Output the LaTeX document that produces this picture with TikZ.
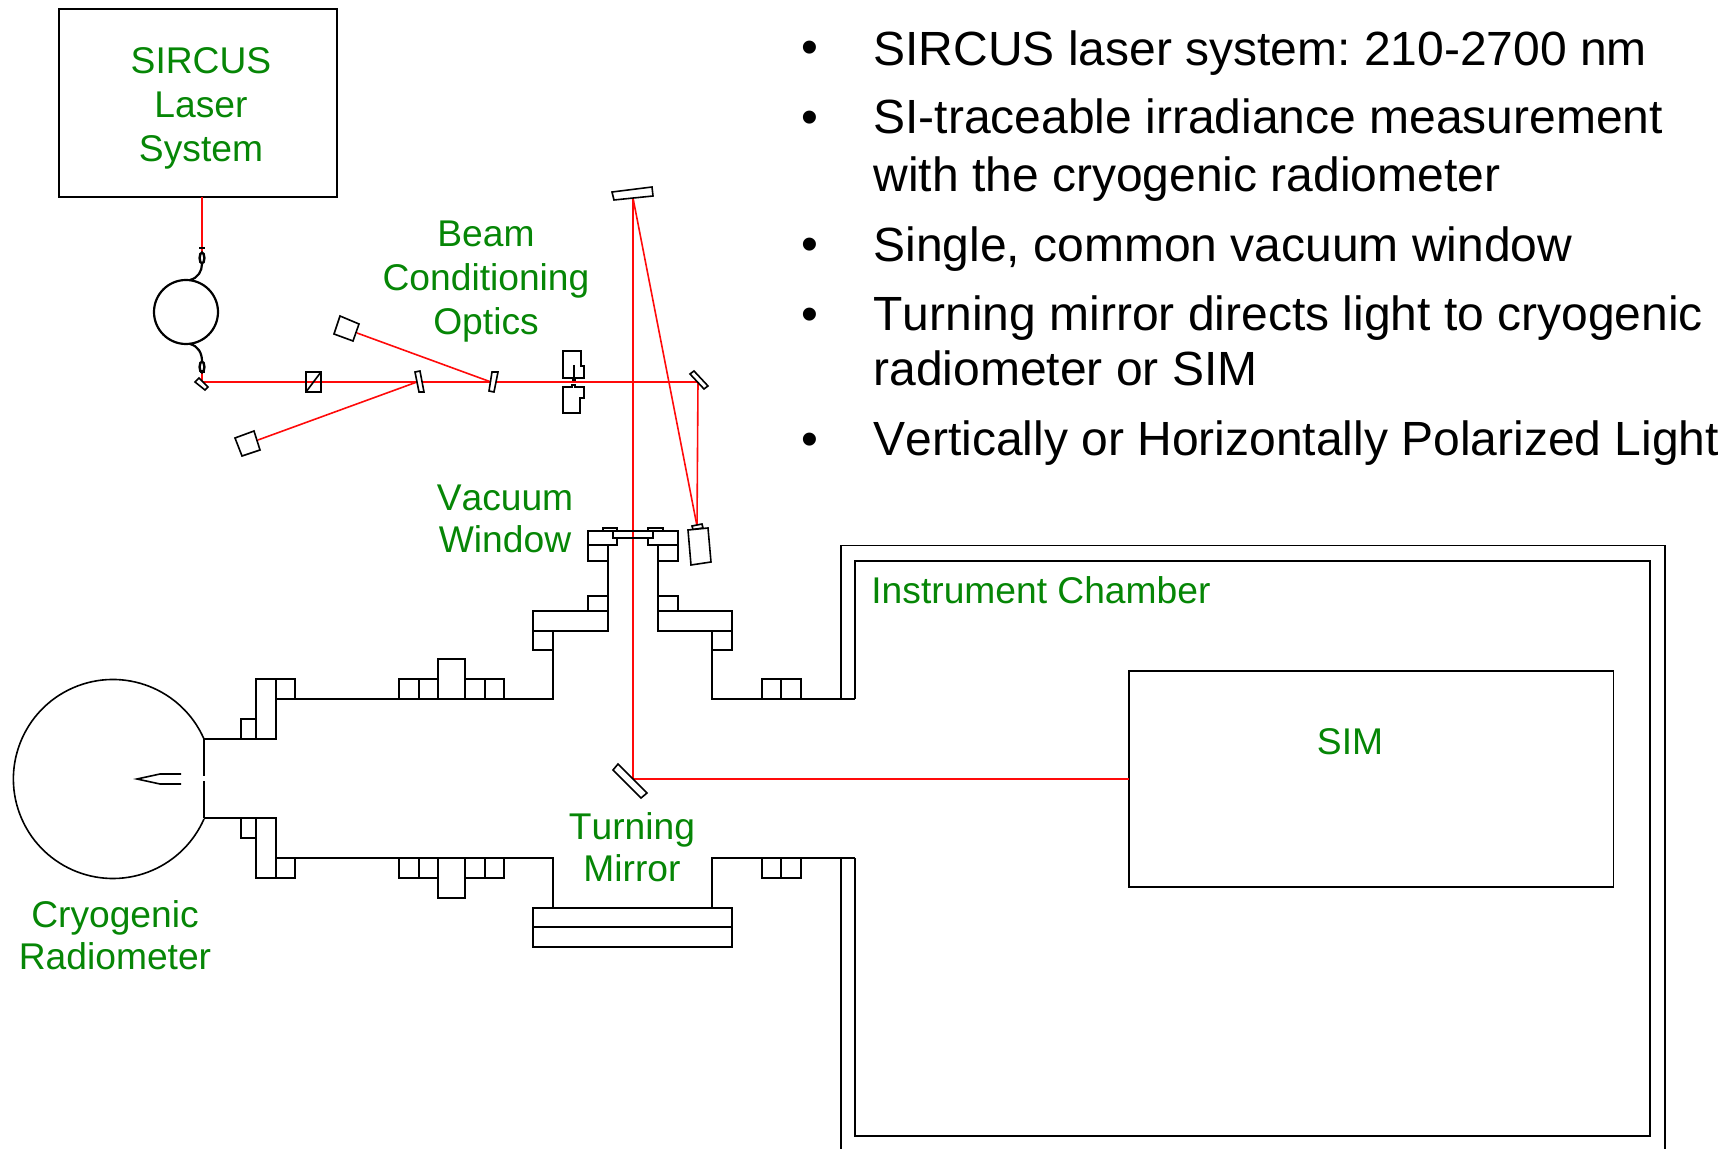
\documentclass[tikz,border=0pt]{standalone}
\usepackage{fontspec}
\setmainfont[Kerning=Off]{Liberation Sans}
\definecolor{lblgreen}{HTML}{068606}
\definecolor{beamred}{HTML}{FF0A0A}
\frenchspacing
\tikzset{
  ink/.style={draw=black,line width=0.8pt,line join=miter},
  optic/.style={ink,fill=white},
  thick ink/.style={draw=black,line width=1.4pt},
  beam/.style={draw=beamred,line width=0.8pt},
  lbl/.style={text=lblgreen,align=center,inner sep=0pt,font=\fontsize{18.6}{22}\selectfont},
  lbltwo/.style={lbl,font=\fontsize{18.6}{21}\selectfont},
  bullettext/.style={text=black,anchor=base west,inner sep=0pt,font=\fontsize{24}{28}\selectfont},
  bulletmark/.style={text=black,anchor=base,inner sep=0pt,font=\fontsize{24}{28}\selectfont},
  boxnode/.style={ink,anchor=north west,inner sep=0pt,outer sep=0pt}
}
\begin{document}
\begin{tikzpicture}[x=0.5pt,y=-0.5pt]
\useasboundingbox (0,0) rectangle (1721,1149);
% named points of the beam path
\coordinate (tick) at (202,248);
\coordinate (fibEnd) at (202,382);
\coordinate (trapA) at (357,333);
\coordinate (trapB) at (258,440);
\coordinate (winA) at (417,382);
\coordinate (winB) at (491,382);
\coordinate (foldR) at (698,382);
\coordinate (foldT) at (633,198);
\coordinate (detTop) at (697,526);
\coordinate (turn) at (633,779);
% boxes
\node[boxnode,minimum width=139pt,minimum height=94pt] (laser) at (59,9) {};
\node[boxnode,minimum width=242.25pt,minimum height=108pt] (sim) at (1129,671) {};
\coordinate (laserOut) at (202,197);
% beams
\draw[beam] (laserOut) -- (tick) -- (202,254);
\draw[beam] (202,371) -- (fibEnd) -- (foldR) -- (detTop);
\draw[beam] (trapA) -- (winB);
\draw[beam] (trapB) -- (winA);
\draw[beam] (foldT) -- (turn) -- (sim.west |- turn);
\draw[beam] (foldT) -- (detTop);
% fibre loop
\draw[ink,line width=1.1pt] (186,312) circle (32);
\draw[ink,line width=1.1pt] (190,280) .. controls (198,278) and (202,271) .. (202,264);
\draw[ink,line width=1.1pt] (190,344) .. controls (198,346) and (202,353) .. (202,361);
\draw[thick ink] (199,248) -- (205,248);
\draw[optic,line width=1.2pt] (202,258) ellipse (2.4 and 5.5);
\draw[optic,line width=1.2pt] (202,367) ellipse (2.4 and 5.5);
\draw[thick ink] (199.5,371.5) -- (204.5,371.5);
% optics
\draw[optic] (195,382) -- (199,378) -- (208,387) -- (205,390) -- cycle;
\draw[ink] (306,372) rectangle (321,392);
\draw[ink] (306,392) -- (321,372);
\draw[optic] (340,316) -- (359,324) -- (353,341) -- (334,334) -- cycle;
\draw[optic] (235,438) -- (254,431) -- (260,450) -- (242,456) -- cycle;
\draw[optic] (415,372) -- (420,371) -- (424,392) -- (419,392) -- cycle;
\draw[optic] (492,372) -- (498,372) -- (494,392) -- (489,391) -- cycle;
\draw[ink] (563,351) -- (581,351) -- (581,366) -- (584,366) -- (584,378) -- (563,378) -- cycle;
\draw[ink] (574,365) -- (574,379);
\draw[thick ink] (572,379.5) -- (576,379.5);
\draw[ink] (563,387) -- (572,387) -- (572,385) -- (575,385) -- (575,387) -- (584,387) -- (584,398) -- (580,398) -- (580,413) -- (563,413) -- cycle;
\draw[optic] (612,192) -- (652,187) -- (653,196) -- (614,200) -- cycle;
\draw[optic] (690,374) -- (694,371) -- (708,386) -- (704,389) -- cycle;
\draw[optic] (618,764) -- (613,770) -- (641,798) -- (647,793) -- cycle;
% detector beside the window
\draw[optic] (692,526) -- (702,524) -- (703,528) -- (693,529.5) -- cycle;
\draw[optic] (688,530) -- (708,528) -- (711,562) -- (691,565) -- cycle;
% vacuum window assembly
\draw[ink] (613,531) rectangle (653,538);
\draw[ink] (603,531) -- (603,528) -- (617,528) -- (617,531);
\draw[ink] (648,531) -- (648,528) -- (663,528) -- (663,531);
\draw[ink] (613,531) -- (588,531) -- (588,545) -- (617,545) -- (617,538);
\draw[ink] (653,531) -- (678,531) -- (678,545) -- (648,545) -- (648,538);
\draw[ink] (588,545) -- (588,561) -- (608,561);
\draw[ink] (678,545) -- (678,561) -- (658,561);
\draw[ink] (608,545) -- (608,611);
\draw[ink] (658,545) -- (658,611);
\draw[ink] (588,611) rectangle (608,596);
\draw[ink] (658,596) rectangle (678,611);
\draw[ink] (533,611) rectangle (608,631);
\draw[ink] (658,611) rectangle (732,631);
\draw[ink] (533,631) rectangle (553,650);
\draw[ink] (712,631) rectangle (732,650);
% main tube, top
\draw[ink] (553,650) -- (553,699.2) -- (295,699.2);
\draw[ink] (712,650) -- (712,699.2) -- (855,699.2);
\draw[ink] (399,679) rectangle (419,699.2);
\draw[ink] (419,679) rectangle (438,699.2);
\draw[ink] (438,659) rectangle (465,699.2);
\draw[ink] (465,679) rectangle (485,699.2);
\draw[ink] (485,679) rectangle (504,699.2);
\draw[ink] (762,679) rectangle (781,699.2);
\draw[ink] (781,679) rectangle (801,699.2);
% main tube, bottom
\draw[ink] (553,908) -- (553,858) -- (295,858);
\draw[ink] (712,908) -- (712,858) -- (855,858);
\draw[ink] (399,858) rectangle (419,878);
\draw[ink] (419,858) rectangle (438,878);
\draw[ink] (438,858) rectangle (465,898);
\draw[ink] (465,858) rectangle (485,878);
\draw[ink] (485,858) rectangle (504,878);
\draw[ink] (762,858) rectangle (781,878);
\draw[ink] (781,858) rectangle (801,878);
% turning mirror port plate
\draw[ink] (533,908) rectangle (732,947);
\draw[ink,line width=1.1pt] (533,927) -- (732,927);
\draw[ink,line width=1.1pt] (553,908) -- (712,908);
% radiometer flanges
\draw[ink] (241,719) rectangle (256,739);
\draw[ink] (256,679) rectangle (276,739);
\draw[ink] (276,679) rectangle (295,699.2);
\draw[ink] (241,818) rectangle (256,838);
\draw[ink] (256,818) rectangle (276,878);
\draw[ink] (276,858) rectangle (295,878);
\draw[ink] (204,739) -- (241,739);
\draw[ink] (204,818) -- (241,818);
% cryogenic radiometer
\draw[ink] (204,739) arc[start angle=-23.7,end angle=-336.3,radius=99.5];
\draw[ink] (204,739) -- (204,776.5);
\draw[ink] (204,781) -- (204,818);
\draw[ink] (181,774) -- (160,774) -- (137,779) -- (160,784) -- (181,784);
% instrument chamber
\draw[ink] (840.7,699.2) -- (840.7,545.5) -- (1665,545.5) -- (1665,1149);
\draw[ink] (840.7,858) -- (840.7,1149);
\draw[ink] (855,699.2) -- (855,561) -- (1650,561) -- (1650,1136) -- (855,1136) -- (855,858);
% labels
\node[lbl] (lblLaser) at (201,108) {SIRCUS\\Laser\\System};
\node[lbl] (lblBeam) at (486,282) {Beam\\Conditioning\\Optics};
\node[lbltwo] (lblVac) at (505,519) {Vacuum\\Window};
\node[lbltwo] (lblTurn) at (632,847) {Turning\\Mirror};
\node[lbltwo] (lblCryo) at (115,935.5) {Cryogenic\\Radiometer};
\node[lbl] (lblSim) at (1350,742) {SIM};
\node[lbl,anchor=base west] (lblChamber) at (871,604) {Instrument Chamber};
% bullets
\node[bulletmark] (b1) at (810,63.5) {•};
\node[bullettext] (t1) at (873,66) {SIRCUS laser system: 210-2700 nm};
\node[bulletmark] (b2) at (810,133.5) {•};
\node[bullettext] (t2) at (873,134) {SI-traceable irradiance measurement};
\node[bullettext] (t2b) at (873,192) {with the cryogenic radiometer};
\node[bulletmark] (b3) at (810,260.5) {•};
\node[bullettext] (t3) at (873,262) {Single, common vacuum window};
\node[bulletmark] (b4) at (810,330.5) {•};
\node[bullettext] (t4) at (873,331) {Turning mirror directs light to cryogenic};
\node[bullettext] (t4b) at (873,386) {radiometer or SIM};
\node[bulletmark] (b5) at (810,455.5) {•};
\node[bullettext] (t5) at (873,456) {Vertically or Horizontally Polarized Light};
\end{tikzpicture}
\end{document}
